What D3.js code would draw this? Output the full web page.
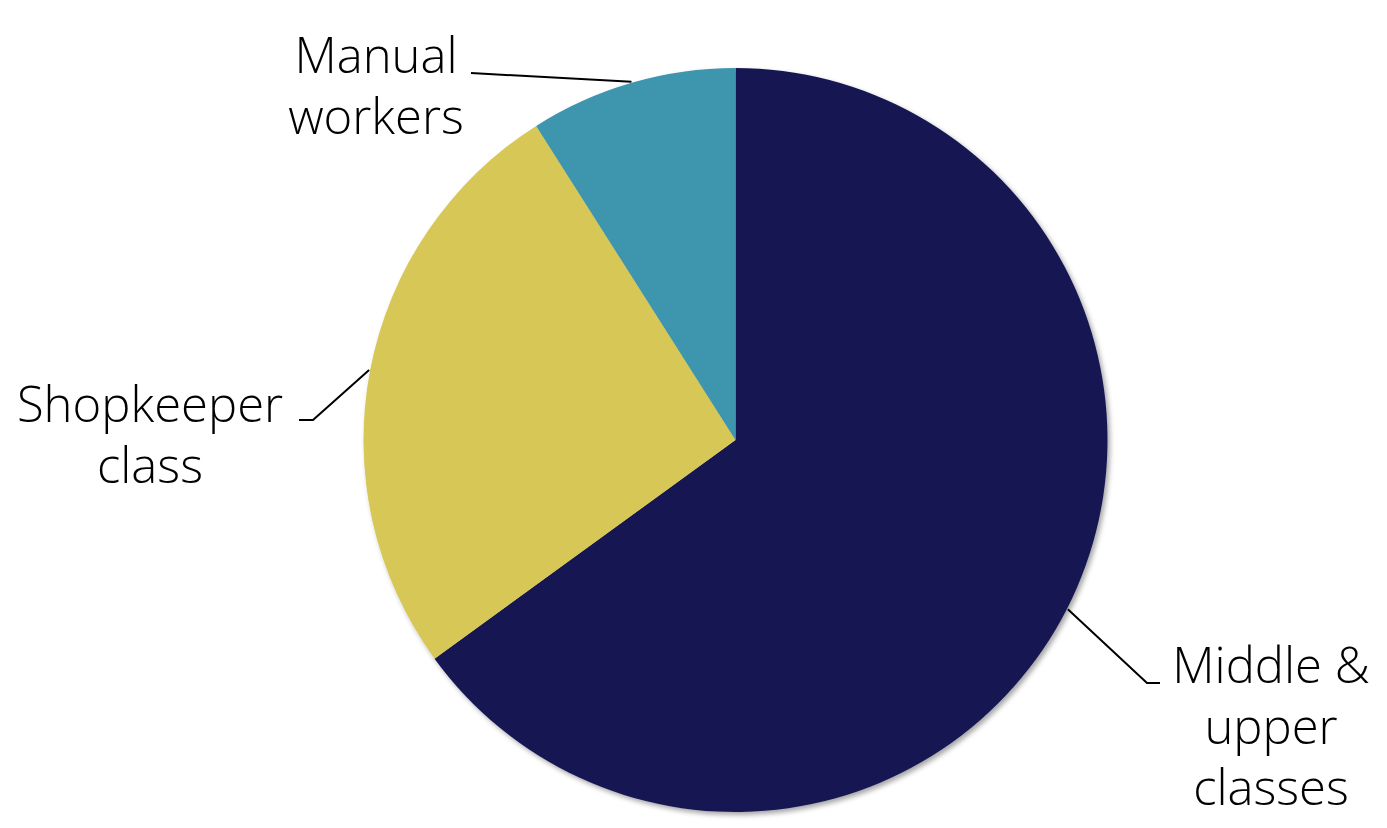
<!DOCTYPE html>
<html>
<head>
<meta charset="utf-8">
<script src="https://d3js.org/d3.v7.min.js"></script>
<style>
  body { margin: 0; background: #fff; }
  text { font-family: "Open Sans", sans-serif; font-weight: 300; fill: #000; }
</style>
</head>
<body>
<svg id="chart"></svg>
<script>
// data
const categories = ['Middle & upper classes', 'Shopkeeper class', 'Manual workers'];
const shares = [65, 26, 9];
const labelLines = [['Middle &', 'upper', 'classes'], ['Shopkeeper', 'class'], ['Manual', 'workers']];

const colors = ['#161852', '#d6c756', '#3d96ad'];

const width = 1387, height = 828;
const cx = 735.5, cy = 440, radius = 372;

// label layout: elbow point, end of leader, text anchor point
const labelLayout = [
  {elbow: [1147, 683], end: [1160, 683], tx: 1271, ty: 683},
  {elbow: [313, 420], end: [299, 420], tx: 150, ty: 422},
  {elbow: null, end: [471, 73], tx: 376, ty: 73}
];
const lineGap = 61;

const svg = d3.select('#chart').attr('width', width).attr('height', height);

const defs = svg.append('defs');
const f = defs.append('filter').attr('id', 'shadow')
  .attr('x', '-10%').attr('y', '-10%').attr('width', '120%').attr('height', '120%');
f.append('feDropShadow').attr('dx', 2.5).attr('dy', 3).attr('stdDeviation', 2.5)
  .attr('flood-color', '#000').attr('flood-opacity', 0.35);

const pie = d3.pie().sort(null).value(function(d) { return d; });
const arcs = pie(shares);

const arc = d3.arc().innerRadius(0).outerRadius(radius);

const g = svg.append('g').attr('transform', 'translate(' + cx + ',' + cy + ')');

g.append('g').attr('filter', 'url(#shadow)')
  .selectAll('path')
  .data(arcs)
  .enter().append('path')
    .attr('d', arc)
    .attr('fill', function(d, i) { return colors[i]; });

// leader lines + labels
arcs.forEach(function(d, i) {
  var a = (d.startAngle + d.endAngle) / 2;
  var sx = cx + Math.sin(a) * (radius + 1);
  var sy = cy - Math.cos(a) * (radius + 1);
  var lay = labelLayout[i];
  var pts = [[sx, sy]];
  if (lay.elbow) pts.push(lay.elbow);
  pts.push(lay.end);
  svg.append('path')
    .attr('d', d3.line()(pts))
    .attr('fill', 'none')
    .attr('stroke', '#000')
    .attr('stroke-width', 2);

  var t = svg.append('text')
    .attr('text-anchor', 'middle')
    .attr('font-size', 49);
  labelLines[i].forEach(function(s, j) {
    t.append('tspan').attr('x', lay.tx).attr('y', lay.ty + j * lineGap).text(s);
  });
});
</script>
</body>
</html>
